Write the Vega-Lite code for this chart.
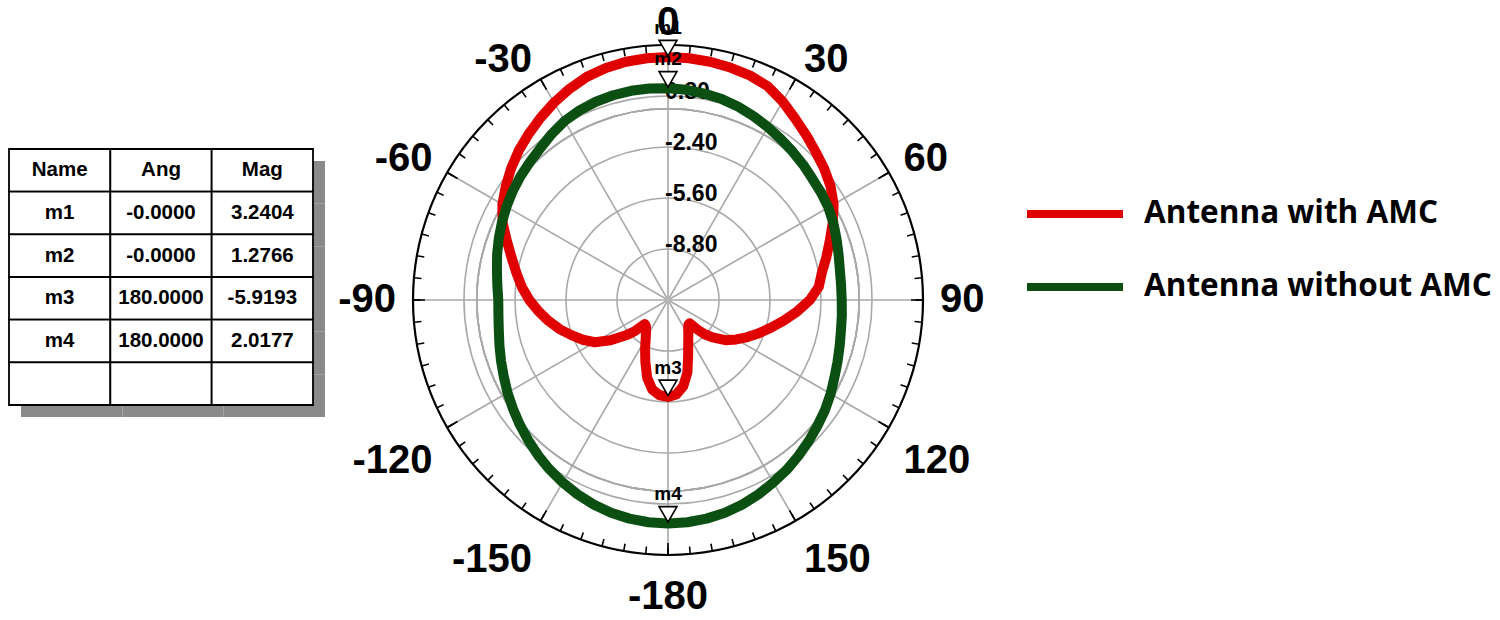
{
"$schema": "https://vega.github.io/schema/vega-lite/v6.json",
"background": "white",
"padding": {"left": 8, "top": 3, "right": 0, "bottom": 0},
"spacing": 100,
"bounds": "flush",
"config": {"view": {"stroke": null}},
"datasets": {
"table": [
{"row": 0, "col": "Name", "txt": "Name"}, {"row": 0, "col": "Ang", "txt": "Ang"}, {"row": 0, "col": "Mag", "txt": "Mag"},
{"row": 1, "col": "Name", "txt": "m1"}, {"row": 1, "col": "Ang", "txt": "-0.0000"}, {"row": 1, "col": "Mag", "txt": "3.2404"},
{"row": 2, "col": "Name", "txt": "m2"}, {"row": 2, "col": "Ang", "txt": "-0.0000"}, {"row": 2, "col": "Mag", "txt": "1.2766"},
{"row": 3, "col": "Name", "txt": "m3"}, {"row": 3, "col": "Ang", "txt": "180.0000"}, {"row": 3, "col": "Mag", "txt": "-5.9193"},
{"row": 4, "col": "Name", "txt": "m4"}, {"row": 4, "col": "Ang", "txt": "180.0000"}, {"row": 4, "col": "Mag", "txt": "2.0177"},
{"row": 5, "col": "Name", "txt": ""}, {"row": 5, "col": "Ang", "txt": ""}, {"row": 5, "col": "Mag", "txt": ""}
],
"rings": [{"r": -8.8, "t": "-8.80"}, {"r": -5.6, "t": "-5.60"}, {"r": -2.4, "t": "-2.40"}, {"r": 0.8, "t": "0.80"}],
"spokes": [{"a": -180}, {"a": -150}, {"a": -120}, {"a": -90}, {"a": -60}, {"a": -30}, {"a": 0}, {"a": 30}, {"a": 60}, {"a": 90}, {"a": 120}, {"a": 150}],
"ticks": [{"a": -180}, {"a": -175}, {"a": -170}, {"a": -165}, {"a": -160}, {"a": -155}, {"a": -150}, {"a": -145}, {"a": -140}, {"a": -135}, {"a": -130}, {"a": -125}, {"a": -120}, {"a": -115}, {"a": -110}, {"a": -105}, {"a": -100}, {"a": -95}, {"a": -90}, {"a": -85}, {"a": -80}, {"a": -75}, {"a": -70}, {"a": -65}, {"a": -60}, {"a": -55}, {"a": -50}, {"a": -45}, {"a": -40}, {"a": -35}, {"a": -30}, {"a": -25}, {"a": -20}, {"a": -15}, {"a": -10}, {"a": -5}, {"a": 0}, {"a": 5}, {"a": 10}, {"a": 15}, {"a": 20}, {"a": 25}, {"a": 30}, {"a": 35}, {"a": 40}, {"a": 45}, {"a": 50}, {"a": 55}, {"a": 60}, {"a": 65}, {"a": 70}, {"a": 75}, {"a": 80}, {"a": 85}, {"a": 90}, {"a": 95}, {"a": 100}, {"a": 105}, {"a": 110}, {"a": 115}, {"a": 120}, {"a": 125}, {"a": 130}, {"a": 135}, {"a": 140}, {"a": 145}, {"a": 150}, {"a": 155}, {"a": 160}, {"a": 165}, {"a": 170}, {"a": 175}],
"labels": [{"a": 0, "t": "0"}, {"a": 30, "t": "30"}, {"a": 60, "t": "60"}, {"a": 90, "t": "90"}, {"a": 120, "t": "120"}, {"a": 150, "t": "150"}, {"a": 180, "t": "-180"}, {"a": -30, "t": "-30"}, {"a": -60, "t": "-60"}, {"a": -90, "t": "-90"}, {"a": -120, "t": "-120"}, {"a": -150, "t": "-150"}],
"markers": [{"m": "m1", "ang": 0, "mag": 3.2404}, {"m": "m2", "ang": 0, "mag": 1.2766}, {"m": "m3", "ang": 180, "mag": -5.9193}, {"m": "m4", "ang": 180, "mag": 2.0177}],
"curves": [
{"s": "Antenna with AMC", "ang": -180, "mag": -5.92}, {"s": "Antenna with AMC", "ang": -175, "mag": -6.0}, {"s": "Antenna with AMC", "ang": -170, "mag": -6.3}, {"s": "Antenna with AMC", "ang": -165, "mag": -6.95}, {"s": "Antenna with AMC", "ang": -160, "mag": -7.85}, {"s": "Antenna with AMC", "ang": -155, "mag": -8.6}, {"s": "Antenna with AMC", "ang": -150, "mag": -9.2}, {"s": "Antenna with AMC", "ang": -145, "mag": -9.6}, {"s": "Antenna with AMC", "ang": -140, "mag": -9.85}, {"s": "Antenna with AMC", "ang": -136, "mag": -9.9}, {"s": "Antenna with AMC", "ang": -133, "mag": -9.1}, {"s": "Antenna with AMC", "ang": -130, "mag": -8.55}, {"s": "Antenna with AMC", "ang": -125, "mag": -7.6}, {"s": "Antenna with AMC", "ang": -120, "mag": -6.7}, {"s": "Antenna with AMC", "ang": -115, "mag": -6.1}, {"s": "Antenna with AMC", "ang": -110, "mag": -5.55}, {"s": "Antenna with AMC", "ang": -105, "mag": -4.95}, {"s": "Antenna with AMC", "ang": -100, "mag": -4.4}, {"s": "Antenna with AMC", "ang": -95, "mag": -3.85}, {"s": "Antenna with AMC", "ang": -90, "mag": -3.3}, {"s": "Antenna with AMC", "ang": -85, "mag": -2.8}, {"s": "Antenna with AMC", "ang": -80, "mag": -2.35}, {"s": "Antenna with AMC", "ang": -75, "mag": -1.85}, {"s": "Antenna with AMC", "ang": -70, "mag": -1.25}, {"s": "Antenna with AMC", "ang": -65, "mag": -0.55}, {"s": "Antenna with AMC", "ang": -60, "mag": 0.0}, {"s": "Antenna with AMC", "ang": -55, "mag": 0.43}, {"s": "Antenna with AMC", "ang": -50, "mag": 0.85}, {"s": "Antenna with AMC", "ang": -45, "mag": 1.25}, {"s": "Antenna with AMC", "ang": -40, "mag": 1.6}, {"s": "Antenna with AMC", "ang": -35, "mag": 1.95}, {"s": "Antenna with AMC", "ang": -30, "mag": 2.3}, {"s": "Antenna with AMC", "ang": -25, "mag": 2.62}, {"s": "Antenna with AMC", "ang": -20, "mag": 2.9}, {"s": "Antenna with AMC", "ang": -15, "mag": 3.07}, {"s": "Antenna with AMC", "ang": -10, "mag": 3.18}, {"s": "Antenna with AMC", "ang": -5, "mag": 3.23}, {"s": "Antenna with AMC", "ang": 0, "mag": 3.24}, {"s": "Antenna with AMC", "ang": 5, "mag": 3.23}, {"s": "Antenna with AMC", "ang": 10, "mag": 3.18}, {"s": "Antenna with AMC", "ang": 15, "mag": 3.1}, {"s": "Antenna with AMC", "ang": 20, "mag": 3.0}, {"s": "Antenna with AMC", "ang": 25, "mag": 2.8}, {"s": "Antenna with AMC", "ang": 30, "mag": 2.38}, {"s": "Antenna with AMC", "ang": 35, "mag": 1.9}, {"s": "Antenna with AMC", "ang": 40, "mag": 1.5}, {"s": "Antenna with AMC", "ang": 45, "mag": 1.12}, {"s": "Antenna with AMC", "ang": 50, "mag": 0.8}, {"s": "Antenna with AMC", "ang": 55, "mag": 0.45}, {"s": "Antenna with AMC", "ang": 60, "mag": 0.0}, {"s": "Antenna with AMC", "ang": 65, "mag": -0.6}, {"s": "Antenna with AMC", "ang": 70, "mag": -1.2}, {"s": "Antenna with AMC", "ang": 75, "mag": -1.72}, {"s": "Antenna with AMC", "ang": 80, "mag": -2.2}, {"s": "Antenna with AMC", "ang": 85, "mag": -2.5}, {"s": "Antenna with AMC", "ang": 90, "mag": -3.1}, {"s": "Antenna with AMC", "ang": 95, "mag": -3.85}, {"s": "Antenna with AMC", "ang": 100, "mag": -4.6}, {"s": "Antenna with AMC", "ang": 105, "mag": -5.3}, {"s": "Antenna with AMC", "ang": 110, "mag": -5.92}, {"s": "Antenna with AMC", "ang": 115, "mag": -6.5}, {"s": "Antenna with AMC", "ang": 120, "mag": -7.05}, {"s": "Antenna with AMC", "ang": 125, "mag": -7.6}, {"s": "Antenna with AMC", "ang": 130, "mag": -8.35}, {"s": "Antenna with AMC", "ang": 133, "mag": -8.85}, {"s": "Antenna with AMC", "ang": 135, "mag": -9.35}, {"s": "Antenna with AMC", "ang": 137, "mag": -10.0}, {"s": "Antenna with AMC", "ang": 140, "mag": -10.0}, {"s": "Antenna with AMC", "ang": 145, "mag": -9.8}, {"s": "Antenna with AMC", "ang": 150, "mag": -9.45}, {"s": "Antenna with AMC", "ang": 155, "mag": -9.0}, {"s": "Antenna with AMC", "ang": 160, "mag": -8.3}, {"s": "Antenna with AMC", "ang": 165, "mag": -7.3}, {"s": "Antenna with AMC", "ang": 170, "mag": -6.5}, {"s": "Antenna with AMC", "ang": 175, "mag": -6.05}, {"s": "Antenna with AMC", "ang": 180, "mag": -5.92},
{"s": "Antenna without AMC", "ang": -180, "mag": 2.02}, {"s": "Antenna without AMC", "ang": -175, "mag": 2.0}, {"s": "Antenna without AMC", "ang": -170, "mag": 1.93}, {"s": "Antenna without AMC", "ang": -165, "mag": 1.82}, {"s": "Antenna without AMC", "ang": -160, "mag": 1.65}, {"s": "Antenna without AMC", "ang": -155, "mag": 1.45}, {"s": "Antenna without AMC", "ang": -150, "mag": 1.22}, {"s": "Antenna without AMC", "ang": -145, "mag": 0.97}, {"s": "Antenna without AMC", "ang": -140, "mag": 0.7}, {"s": "Antenna without AMC", "ang": -135, "mag": 0.42}, {"s": "Antenna without AMC", "ang": -130, "mag": 0.15}, {"s": "Antenna without AMC", "ang": -125, "mag": -0.12}, {"s": "Antenna without AMC", "ang": -120, "mag": -0.37}, {"s": "Antenna without AMC", "ang": -115, "mag": -0.63}, {"s": "Antenna without AMC", "ang": -110, "mag": -0.85}, {"s": "Antenna without AMC", "ang": -105, "mag": -1.05}, {"s": "Antenna without AMC", "ang": -100, "mag": -1.22}, {"s": "Antenna without AMC", "ang": -95, "mag": -1.32}, {"s": "Antenna without AMC", "ang": -90, "mag": -1.35}, {"s": "Antenna without AMC", "ang": -85, "mag": -1.25}, {"s": "Antenna without AMC", "ang": -80, "mag": -1.1}, {"s": "Antenna without AMC", "ang": -75, "mag": -0.9}, {"s": "Antenna without AMC", "ang": -70, "mag": -0.7}, {"s": "Antenna without AMC", "ang": -65, "mag": -0.5}, {"s": "Antenna without AMC", "ang": -60, "mag": -0.3}, {"s": "Antenna without AMC", "ang": -55, "mag": -0.1}, {"s": "Antenna without AMC", "ang": -50, "mag": 0.08}, {"s": "Antenna without AMC", "ang": -45, "mag": 0.25}, {"s": "Antenna without AMC", "ang": -40, "mag": 0.45}, {"s": "Antenna without AMC", "ang": -35, "mag": 0.72}, {"s": "Antenna without AMC", "ang": -30, "mag": 0.97}, {"s": "Antenna without AMC", "ang": -25, "mag": 1.13}, {"s": "Antenna without AMC", "ang": -20, "mag": 1.24}, {"s": "Antenna without AMC", "ang": -15, "mag": 1.3}, {"s": "Antenna without AMC", "ang": -10, "mag": 1.33}, {"s": "Antenna without AMC", "ang": -5, "mag": 1.32}, {"s": "Antenna without AMC", "ang": 0, "mag": 1.28}, {"s": "Antenna without AMC", "ang": 5, "mag": 1.24}, {"s": "Antenna without AMC", "ang": 10, "mag": 1.15}, {"s": "Antenna without AMC", "ang": 15, "mag": 1.05}, {"s": "Antenna without AMC", "ang": 20, "mag": 0.9}, {"s": "Antenna without AMC", "ang": 25, "mag": 0.72}, {"s": "Antenna without AMC", "ang": 30, "mag": 0.53}, {"s": "Antenna without AMC", "ang": 35, "mag": 0.33}, {"s": "Antenna without AMC", "ang": 40, "mag": 0.16}, {"s": "Antenna without AMC", "ang": 45, "mag": 0.0}, {"s": "Antenna without AMC", "ang": 50, "mag": -0.17}, {"s": "Antenna without AMC", "ang": 55, "mag": -0.27}, {"s": "Antenna without AMC", "ang": 60, "mag": -0.38}, {"s": "Antenna without AMC", "ang": 65, "mag": -0.55}, {"s": "Antenna without AMC", "ang": 70, "mag": -0.75}, {"s": "Antenna without AMC", "ang": 75, "mag": -0.92}, {"s": "Antenna without AMC", "ang": 80, "mag": -1.05}, {"s": "Antenna without AMC", "ang": 85, "mag": -1.1}, {"s": "Antenna without AMC", "ang": 90, "mag": -1.1}, {"s": "Antenna without AMC", "ang": 95, "mag": -1.05}, {"s": "Antenna without AMC", "ang": 100, "mag": -0.98}, {"s": "Antenna without AMC", "ang": 105, "mag": -0.85}, {"s": "Antenna without AMC", "ang": 110, "mag": -0.68}, {"s": "Antenna without AMC", "ang": 115, "mag": -0.48}, {"s": "Antenna without AMC", "ang": 120, "mag": -0.22}, {"s": "Antenna without AMC", "ang": 125, "mag": 0.03}, {"s": "Antenna without AMC", "ang": 130, "mag": 0.25}, {"s": "Antenna without AMC", "ang": 135, "mag": 0.5}, {"s": "Antenna without AMC", "ang": 140, "mag": 0.75}, {"s": "Antenna without AMC", "ang": 145, "mag": 1.0}, {"s": "Antenna without AMC", "ang": 150, "mag": 1.22}, {"s": "Antenna without AMC", "ang": 155, "mag": 1.45}, {"s": "Antenna without AMC", "ang": 160, "mag": 1.65}, {"s": "Antenna without AMC", "ang": 165, "mag": 1.82}, {"s": "Antenna without AMC", "ang": 170, "mag": 1.93}, {"s": "Antenna without AMC", "ang": 175, "mag": 2.0}, {"s": "Antenna without AMC", "ang": 180, "mag": 2.02}
]
},
"hconcat": [
{
"width": 304, "height": 510,
"data": {"name": "table"},
"encoding": {
"x": {"field": "col", "type": "nominal", "sort": ["Name", "Ang", "Mag"], "axis": null, "scale": {"paddingInner": 0, "paddingOuter": 0}},
"y": {"field": "row", "type": "ordinal", "axis": null, "scale": {"range": [104, 360], "paddingInner": 0, "paddingOuter": 0}}
},
"layer": [
{"mark": {"type": "rect", "fill": "#8a8a8a", "xOffset": 12, "yOffset": 12}},
{"mark": {"type": "rect", "fill": "white", "stroke": "black", "strokeWidth": 1.8}},
{"mark": {"type": "text", "font": "Liberation Sans", "fontWeight": "bold", "fontSize": 20.5, "color": "black", "baseline": "middle"}, "encoding": {"text": {"field": "txt"}}}
]
},
{
"width": 510, "height": 510,
"layer": [
{"data": {"name": "rings"},
 "mark": {"type": "arc", "filled": false, "stroke": "#a9a9a9", "strokeWidth": 1.6},
 "encoding": {
 "radius": {"field": "r", "type": "quantitative", "stack": null, "scale": {"type": "linear", "domain": [-12, 4], "range": [0, 255], "zero": false}},
 "theta": {"datum": -180, "type": "quantitative", "scale": {"domain": [-180, 180], "range": [-3.141592653589793, 3.141592653589793]}},
 "theta2": {"datum": 180}}},
{"data": {"name": "spokes"},
 "mark": {"type": "arc", "filled": false, "stroke": "#a9a9a9", "strokeWidth": 1.6},
 "encoding": {
 "theta": {"field": "a", "type": "quantitative", "stack": null, "scale": {"domain": [-180, 180], "range": [-3.141592653589793, 3.141592653589793]}},
 "theta2": {"field": "a"},
 "radius": {"datum": 4, "type": "quantitative", "scale": {"type": "linear", "domain": [-12, 4], "range": [0, 255], "zero": false}},
 "radius2": {"datum": -12}}},
{"data": {"values": [{"c": 0}]},
 "mark": {"type": "point", "filled": true, "color": "#b5b5b5", "size": 60, "opacity": 1},
 "encoding": {
 "x": {"datum": 0, "type": "quantitative", "scale": {"domain": [-16, 16]}, "axis": null},
 "y": {"datum": 0, "type": "quantitative", "scale": {"domain": [-16, 16]}, "axis": null}}},
{"data": {"name": "rings"},
 "mark": {"type": "text", "align": "left", "baseline": "alphabetic", "dx": -3, "dy": 3, "font": "Liberation Sans", "fontWeight": "bold", "fontSize": 23, "color": "black"},
 "encoding": {
 "theta": {"datum": 0, "type": "quantitative", "scale": {"domain": [-180, 180], "range": [-3.141592653589793, 3.141592653589793]}},
 "radius": {"field": "r", "type": "quantitative", "stack": null, "scale": {"type": "linear", "domain": [-12, 4], "range": [0, 255], "zero": false}},
 "text": {"field": "t"}}},
{"data": {"values": [{"c": 0}]},
 "mark": {"type": "arc", "filled": false, "stroke": "black", "strokeWidth": 2.2},
 "encoding": {
 "radius": {"datum": 4, "type": "quantitative", "scale": {"type": "linear", "domain": [-12, 4], "range": [0, 255], "zero": false}},
 "radius2": {"datum": 4},
 "theta": {"datum": -180, "type": "quantitative", "scale": {"domain": [-180, 180], "range": [-3.141592653589793, 3.141592653589793]}},
 "theta2": {"datum": 180}}},
{"data": {"name": "ticks"},
 "mark": {"type": "arc", "filled": false, "stroke": "black", "strokeWidth": 1.6},
 "encoding": {
 "theta": {"field": "a", "type": "quantitative", "stack": null, "scale": {"domain": [-180, 180], "range": [-3.141592653589793, 3.141592653589793]}},
 "theta2": {"field": "a"},
 "radius": {"datum": 4, "type": "quantitative", "scale": {"type": "linear", "domain": [-12, 4], "range": [0, 255], "zero": false}},
 "radius2": {"datum": 3.53}}},
{"data": {"name": "spokes"},
 "mark": {"type": "arc", "filled": false, "stroke": "black", "strokeWidth": 1.6},
 "encoding": {
 "theta": {"field": "a", "type": "quantitative", "stack": null, "scale": {"domain": [-180, 180], "range": [-3.141592653589793, 3.141592653589793]}},
 "theta2": {"field": "a"},
 "radius": {"datum": 4, "type": "quantitative", "scale": {"type": "linear", "domain": [-12, 4], "range": [0, 255], "zero": false}},
 "radius2": {"datum": 3.25}}},
{"data": {"name": "labels"},
 "transform": [{"filter": "datum.a == 0"}],
 "mark": {"type": "text", "align": "center", "baseline": "alphabetic", "dy": 7, "font": "Liberation Sans", "fontWeight": "bold", "fontSize": 40, "color": "black"},
 "encoding": {"theta": {"field": "a", "type": "quantitative", "stack": null, "scale": {"domain": [-180, 180], "range": [-3.141592653589793, 3.141592653589793]}}, "radius": {"datum": 5.06, "type": "quantitative", "scale": {"type": "linear", "domain": [-12, 4], "range": [0, 255], "zero": false}}, "text": {"field": "t"}}},
{"data": {"name": "labels"},
 "transform": [{"filter": "datum.a == 180"}],
 "mark": {"type": "text", "align": "center", "baseline": "top", "dy": 5, "font": "Liberation Sans", "fontWeight": "bold", "fontSize": 40, "color": "black"},
 "encoding": {"theta": {"field": "a", "type": "quantitative", "stack": null, "scale": {"domain": [-180, 180], "range": [-3.141592653589793, 3.141592653589793]}}, "radius": {"datum": 5.06, "type": "quantitative", "scale": {"type": "linear", "domain": [-12, 4], "range": [0, 255], "zero": false}}, "text": {"field": "t"}}},
{"data": {"name": "labels"},
 "transform": [{"filter": "datum.a == 30 || datum.a == 60"}],
 "mark": {"type": "text", "align": "left", "baseline": "alphabetic", "dy": 7, "font": "Liberation Sans", "fontWeight": "bold", "fontSize": 40, "color": "black"},
 "encoding": {"theta": {"field": "a", "type": "quantitative", "stack": null, "scale": {"domain": [-180, 180], "range": [-3.141592653589793, 3.141592653589793]}}, "radius": {"datum": 5.06, "type": "quantitative", "scale": {"type": "linear", "domain": [-12, 4], "range": [0, 255], "zero": false}}, "text": {"field": "t"}}},
{"data": {"name": "labels"},
 "transform": [{"filter": "datum.a == 90"}],
 "mark": {"type": "text", "align": "left", "baseline": "middle", "font": "Liberation Sans", "fontWeight": "bold", "fontSize": 40, "color": "black"},
 "encoding": {"theta": {"field": "a", "type": "quantitative", "stack": null, "scale": {"domain": [-180, 180], "range": [-3.141592653589793, 3.141592653589793]}}, "radius": {"datum": 5.06, "type": "quantitative", "scale": {"type": "linear", "domain": [-12, 4], "range": [0, 255], "zero": false}}, "text": {"field": "t"}}},
{"data": {"name": "labels"},
 "transform": [{"filter": "datum.a == 120 || datum.a == 150"}],
 "mark": {"type": "text", "align": "left", "baseline": "top", "dy": 5, "font": "Liberation Sans", "fontWeight": "bold", "fontSize": 40, "color": "black"},
 "encoding": {"theta": {"field": "a", "type": "quantitative", "stack": null, "scale": {"domain": [-180, 180], "range": [-3.141592653589793, 3.141592653589793]}}, "radius": {"datum": 5.06, "type": "quantitative", "scale": {"type": "linear", "domain": [-12, 4], "range": [0, 255], "zero": false}}, "text": {"field": "t"}}},
{"data": {"name": "labels"},
 "transform": [{"filter": "datum.a == -30 || datum.a == -60"}],
 "mark": {"type": "text", "align": "right", "baseline": "alphabetic", "dy": 7, "font": "Liberation Sans", "fontWeight": "bold", "fontSize": 40, "color": "black"},
 "encoding": {"theta": {"field": "a", "type": "quantitative", "stack": null, "scale": {"domain": [-180, 180], "range": [-3.141592653589793, 3.141592653589793]}}, "radius": {"datum": 5.06, "type": "quantitative", "scale": {"type": "linear", "domain": [-12, 4], "range": [0, 255], "zero": false}}, "text": {"field": "t"}}},
{"data": {"name": "labels"},
 "transform": [{"filter": "datum.a == -90"}],
 "mark": {"type": "text", "align": "right", "baseline": "middle", "font": "Liberation Sans", "fontWeight": "bold", "fontSize": 40, "color": "black"},
 "encoding": {"theta": {"field": "a", "type": "quantitative", "stack": null, "scale": {"domain": [-180, 180], "range": [-3.141592653589793, 3.141592653589793]}}, "radius": {"datum": 5.06, "type": "quantitative", "scale": {"type": "linear", "domain": [-12, 4], "range": [0, 255], "zero": false}}, "text": {"field": "t"}}},
{"data": {"name": "labels"},
 "transform": [{"filter": "datum.a == -120 || datum.a == -150"}],
 "mark": {"type": "text", "align": "right", "baseline": "top", "dy": 5, "font": "Liberation Sans", "fontWeight": "bold", "fontSize": 40, "color": "black"},
 "encoding": {"theta": {"field": "a", "type": "quantitative", "stack": null, "scale": {"domain": [-180, 180], "range": [-3.141592653589793, 3.141592653589793]}}, "radius": {"datum": 5.06, "type": "quantitative", "scale": {"type": "linear", "domain": [-12, 4], "range": [0, 255], "zero": false}}, "text": {"field": "t"}}},
{"data": {"name": "curves"},
 "transform": [
 {"calculate": "(datum.mag + 12) * sin(datum.ang * PI / 180)", "as": "px"},
 {"calculate": "(datum.mag + 12) * cos(datum.ang * PI / 180)", "as": "py"}],
 "mark": {"type": "line", "strokeWidth": 10, "strokeJoin": "round", "strokeCap": "round"},
 "encoding": {
 "x": {"field": "px", "type": "quantitative", "scale": {"domain": [-16, 16]}, "axis": null},
 "y": {"field": "py", "type": "quantitative", "scale": {"domain": [-16, 16]}, "axis": null},
 "order": {"field": "ang", "type": "quantitative"},
 "color": {"field": "s", "type": "nominal",
 "scale": {"domain": ["Antenna with AMC", "Antenna without AMC"], "range": ["#e00000", "#0b4f12"]},
 "legend": {"orient": "none", "legendX": 1014, "legendY": 117, "title": null, "symbolType": "stroke", "symbolSize": 9216, "symbolStrokeWidth": 8, "labelFont": "Open Sans", "labelFontWeight": "bold", "labelFontSize": 31.5, "labelColor": "black", "labelOffset": 17, "rowPadding": 5, "labelLimit": 600,
 "encode": {"symbols": {"update": {"stroke": {"signal": "datum.value == 'Antenna with AMC' ? '#e00000' : '#142816'"}}}}}}}},
{"data": {"name": "markers"},
 "transform": [
 {"calculate": "(datum.mag + 12) * sin(datum.ang * PI / 180)", "as": "px"},
 {"calculate": "(datum.mag + 12) * cos(datum.ang * PI / 180)", "as": "py"}],
 "mark": {"type": "point", "shape": "triangle-down", "filled": true, "fill": "white", "stroke": "black", "strokeWidth": 1.6, "opacity": 1, "size": 320, "yOffset": -9},
 "encoding": {
 "x": {"field": "px", "type": "quantitative", "scale": {"domain": [-16, 16]}, "axis": null},
 "y": {"field": "py", "type": "quantitative", "scale": {"domain": [-16, 16]}, "axis": null}}},
{"data": {"name": "markers"},
 "transform": [
 {"calculate": "(datum.mag + 12) * sin(datum.ang * PI / 180)", "as": "px"},
 {"calculate": "(datum.mag + 12) * cos(datum.ang * PI / 180)", "as": "py"}],
 "mark": {"type": "text", "yOffset": -29, "font": "Liberation Sans", "fontWeight": "bold", "fontSize": 19, "color": "black", "baseline": "middle"},
 "encoding": {
 "x": {"field": "px", "type": "quantitative", "scale": {"domain": [-16, 16]}, "axis": null},
 "y": {"field": "py", "type": "quantitative", "scale": {"domain": [-16, 16]}, "axis": null},
 "text": {"field": "m"}}}
]
}
]
}
